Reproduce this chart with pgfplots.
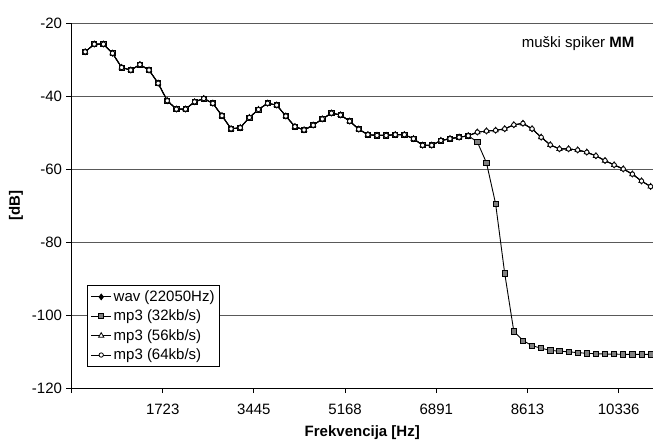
\documentclass[border=0pt]{standalone}
\usepackage{fontspec}
\setmainfont{Liberation Sans}
\usepackage{pgfplots}
\usepackage{pgfplotstable}
\pgfplotsset{compat=1.18}

\pgfplotstableread{
x wav m32 m56 m64
1.5 -27.9 -27.9 -27.9 -27.9
2.5 -25.8 -25.8 -25.8 -25.8
3.5 -25.8 -25.8 -25.8 -25.8
4.5 -28.3 -28.3 -28.3 -28.3
5.5 -32.2 -32.2 -32.2 -32.2
6.5 -32.9 -32.9 -32.9 -32.9
7.5 -31.4 -31.4 -31.4 -31.4
8.5 -32.9 -32.9 -32.9 -32.9
9.5 -36.5 -36.5 -36.5 -36.5
10.5 -41.3 -41.3 -41.3 -41.3
11.5 -43.6 -43.6 -43.6 -43.6
12.5 -43.6 -43.6 -43.6 -43.6
13.5 -41.6 -41.6 -41.6 -41.6
14.5 -40.7 -40.7 -40.7 -40.7
15.5 -42.0 -42.0 -42.0 -42.0
16.5 -45.4 -45.4 -45.4 -45.4
17.5 -49.0 -49.0 -49.0 -49.0
18.5 -48.7 -48.7 -48.7 -48.7
19.5 -45.9 -45.9 -45.9 -45.9
20.5 -43.7 -43.7 -43.7 -43.7
21.5 -42.0 -42.0 -42.0 -42.0
22.5 -42.5 -42.5 -42.5 -42.5
23.5 -45.5 -45.5 -45.5 -45.5
24.5 -48.4 -48.4 -48.4 -48.4
25.5 -49.3 -49.3 -49.3 -49.3
26.5 -48.0 -48.0 -48.0 -48.0
27.5 -46.3 -46.3 -46.3 -46.3
28.5 -44.7 -44.7 -44.7 -44.7
29.5 -45.2 -45.2 -45.2 -45.2
30.5 -46.9 -46.9 -46.9 -46.9
31.5 -49.1 -49.1 -49.1 -49.1
32.5 -50.6 -50.6 -50.6 -50.6
33.5 -50.8 -50.8 -50.8 -50.8
34.5 -50.8 -50.8 -50.8 -50.8
35.5 -50.6 -50.6 -50.6 -50.6
36.5 -50.6 -50.6 -50.6 -50.6
37.5 -51.7 -51.7 -51.7 -51.7
38.5 -53.5 -53.5 -53.5 -53.5
39.5 -53.5 -53.5 -53.5 -53.5
40.5 -52.2 -52.2 -52.2 -52.2
41.5 -51.7 -51.7 -51.7 -51.7
42.5 -51.3 -51.3 -51.3 -51.3
43.5 -50.9 -50.9 -50.9 -50.9
44.5 -49.9 -52.6 -49.9 -49.9
45.5 -49.6 -58.3 -49.6 -49.6
46.5 -49.4 -69.5 -49.4 -49.4
47.5 -49.0 -88.6 -49.0 -49.0
48.5 -47.9 -104.5 -47.9 -47.9
49.5 -47.5 -107.0 -47.5 -47.5
50.5 -49.0 -108.4 -49.0 -49.0
51.5 -51.3 -109.1 -51.3 -51.3
52.5 -53.4 -109.7 -53.4 -53.4
53.5 -54.5 -109.9 -54.5 -54.5
54.5 -54.5 -110.1 -54.5 -54.5
55.5 -54.8 -110.3 -54.8 -54.8
56.5 -55.4 -110.5 -55.4 -55.4
57.5 -56.4 -110.6 -56.4 -56.4
58.5 -57.7 -110.7 -57.7 -57.7
59.5 -58.9 -110.7 -58.9 -58.9
60.5 -60.0 -110.8 -60.0 -60.0
61.5 -61.4 -110.8 -61.4 -61.4
62.5 -63.3 -110.8 -63.3 -63.3
63.5 -64.8 -110.8 -64.8 -64.8
}\datatable

\newcommand{\fs}{\fontsize{15}{18}\selectfont}

\begin{document}
\begin{tikzpicture}
\begin{axis}[
  name=ax,
  scale only axis,
  width=581.5pt, height=365pt,
  xmin=0, xmax=63.76,
  ymin=-120, ymax=-20,
  axis x line*=bottom,
  axis y line*=left,
  axis line style={black, line width=0.9pt},
  xtick={0,10,20,30,40,50,60},
  xticklabels={,1723,3445,5168,6891,8613,10336},
  ytick={-120,-100,-80,-60,-40,-20},
  yticklabels={-120,-100,-80,-60,-40,-20},
  tick align=outside,
  major tick length=5pt,
  tick style={black, line width=0.9pt},
  ymajorgrids,
  grid style={black!65, line width=0.9pt},
  ticklabel style={font=\fs},
  xticklabel style={yshift=-7pt},
  yticklabel style={xshift=-1pt},
  xlabel={\textbf{Frekvencija [Hz]}},
  xlabel style={font=\fs, at={(axis description cs:0.5,0)}, anchor=base, yshift=-48pt},
  legend cell align=left,
  legend style={at={(0.0272,0.2814)}, anchor=north west, draw=black, line width=0.9pt,
    fill=white, font=\fs, row sep=3pt, inner sep=3pt,
    /tikz/every even column/.append style={column sep=3pt}},
  legend image code/.code={\draw[mark repeat=2,mark phase=2,#1] plot coordinates {(0pt,0pt) (10pt,0pt) (20pt,0pt)};},
]
\addplot[black, line width=0.9pt, mark=diamond*, mark size=2.8pt, mark options={fill=black, solid}] table[x=x,y=wav] {\datatable};
\addlegendentry{wav (22050Hz)}
\addplot[black, line width=0.9pt, mark=square*, mark size=2.6pt, mark options={fill=black!50, draw=black, line width=0.8pt, solid}] table[x=x,y=m32] {\datatable};
\addlegendentry{mp3 (32kb/s)}
\addplot[black, line width=0.9pt, mark=triangle*, mark size=3pt, mark options={fill=white, draw=black, line width=0.8pt, solid}] table[x=x,y=m56] {\datatable};
\addlegendentry{mp3 (56kb/s)}
\addplot[black, line width=0.9pt, mark=*, mark size=2.2pt, mark options={fill=white, draw=black, line width=0.8pt, solid}] table[x=x,y=m64] {\datatable};
\addlegendentry{mp3 (64kb/s)}
\node[anchor=base east, font=\fs] at (rel axis cs:0.974,0.934) {muški spiker \textbf{MM}};
\end{axis}
\node[rotate=90, font=\fs, anchor=center] at ([xshift=-55.5pt]ax.west) {\textbf{[dB]}};
\pgfresetboundingbox
\path ([shift={(-71.5pt,-51pt)}]ax.south west) rectangle ([shift={(0pt,23pt)}]ax.north east);
\end{tikzpicture}
\end{document}
